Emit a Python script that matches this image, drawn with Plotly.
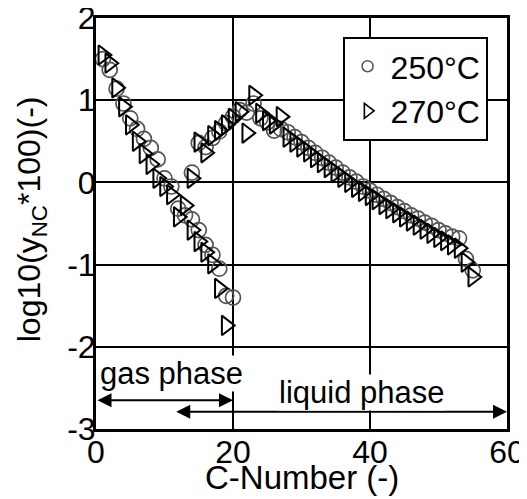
import plotly.graph_objects as go

# 250°C (circles)
c250_gas = [1, 2, 3, 4, 5, 6, 7, 8, 9, 10, 11, 12, 13, 14, 15, 16, 17, 18, 19, 20]
v250_gas = [1.50, 1.37, 1.14, 0.96, 0.78, 0.65, 0.53, 0.42, 0.28, 0.05, -0.05, -0.32,
            -0.40, -0.45, -0.58, -0.76, -0.88, -1.05, -1.38, -1.40]
c250_liq = [14, 15, 16, 17, 18, 19, 20, 21, 22, 23, 24, 25, 26, 27, 28, 29, 30, 31, 32,
            33, 34, 35, 36, 37, 38, 39, 40, 41, 42, 43, 44, 45, 46, 47, 48, 49, 50, 51,
            52, 53, 54, 55]
v250_liq = [0.12, 0.48, 0.43, 0.54, 0.62, 0.72, 0.80, 0.88, 0.85, 0.96, 0.78, 0.73, 0.63,
            0.65, 0.61, 0.55, 0.49, 0.42, 0.36, 0.30, 0.24, 0.18, 0.12, 0.06, 0.01, -0.05,
            -0.10, -0.15, -0.20, -0.25, -0.30, -0.35, -0.40, -0.44, -0.49, -0.53, -0.58,
            -0.62, -0.66, -0.68, -0.93, -1.07]

# 270°C (triangles)
c270_gas = [1, 2, 3, 4, 5, 6, 7, 8, 9, 10, 11, 12, 13, 14, 15, 16, 17, 18, 19]
v270_gas = [1.55, 1.45, 1.15, 0.92, 0.70, 0.50, 0.35, 0.22, 0.05, -0.05, -0.15, -0.42,
            -0.28, -0.58, -0.72, -0.85, -0.99, -1.29, -1.74]
c270_liq = [14, 15, 16, 17, 18, 19, 20, 21, 22, 23, 24, 25, 26, 27, 28, 29, 30, 31, 32,
            33, 34, 35, 36, 37, 38, 39, 40, 41, 42, 43, 44, 45, 46, 47, 48, 49, 50, 51,
            52, 53, 54, 55]
v270_liq = [0.05, 0.49, 0.36, 0.57, 0.63, 0.70, 0.78, 0.86, 0.60, 1.06, 0.84, 0.75, 0.71,
            0.80, 0.55, 0.49, 0.43, 0.37, 0.30, 0.24, 0.18, 0.12, 0.06, 0.00, -0.06, -0.11,
            -0.16, -0.21, -0.27, -0.32, -0.37, -0.42, -0.47, -0.52, -0.57, -0.62, -0.67,
            -0.71, -0.76, -0.80, -0.97, -1.15]

x_ticks = [0, 20, 40, 60]
x_labels = ["0", "20", "40", "60"]
y_ticks = [-3, -2, -1, 0, 1, 2]
y_labels = ["-3", "-2", "-1", "0", "1", "2"]

FONT = "Arial, Liberation Sans, sans-serif"

fig = go.Figure()
circ = dict(symbol="circle-open", size=15, color="#555555", line=dict(width=1.7, color="#555555"))
tri = dict(symbol="triangle-right-open", size=17, color="black", line=dict(width=2, color="black"))

fig.add_trace(go.Scatter(x=c250_gas + c250_liq, y=v250_gas + v250_liq, mode="markers",
                         marker=circ, showlegend=False, cliponaxis=False))
fig.add_trace(go.Scatter(x=c270_gas + c270_liq, y=v270_gas + v270_liq, mode="markers",
                         marker=tri, showlegend=False, cliponaxis=False))
# legend entries
fig.add_trace(go.Scatter(x=[None], y=[None], mode="markers", name="250°C",
                         marker=dict(symbol="circle-open", size=11, color="#555555",
                                     line=dict(width=1.5, color="#555555"))))
fig.add_trace(go.Scatter(x=[None], y=[None], mode="markers", name="270°C",
                         marker=dict(symbol="triangle-right-open", size=13, color="black",
                                     line=dict(width=1.6, color="black"))))

# phase arrows and labels
fig.add_annotation(x=20, y=-2.65, ax=0, ay=-2.65, xref="x", yref="y", axref="x", ayref="y",
                   text="", showarrow=True, arrowside="end+start", arrowhead=2,
                   startarrowhead=2, arrowsize=1.4, startarrowsize=1.4, arrowwidth=2,
                   arrowcolor="black")
fig.add_annotation(x=60, y=-2.79, ax=11.5, ay=-2.79, xref="x", yref="y", axref="x", ayref="y",
                   text="", showarrow=True, arrowside="end+start", arrowhead=2,
                   startarrowhead=2, arrowsize=1.4, startarrowsize=1.4, arrowwidth=2,
                   arrowcolor="black")
fig.add_annotation(x=11, y=-2.33, xref="x", yref="y", text="gas phase", showarrow=False,
                   font=dict(family=FONT, size=31, color="black"), bgcolor="white", borderpad=0)
fig.add_annotation(x=38.8, y=-2.56, xref="x", yref="y", text="liquid phase", showarrow=False,
                   font=dict(family=FONT, size=31, color="black"), bgcolor="white", borderpad=0)

# axis titles
fig.add_annotation(x=0.5, y=-0.118, xref="paper", yref="paper", text="C-Number (-)",
                   showarrow=False, xanchor="center", yanchor="middle",
                   font=dict(family=FONT, size=33, color="black"))
fig.add_annotation(x=-0.156, y=0.51, xref="paper", yref="paper",
                   text="log10(y<sub>NC</sub>*100)(-)", textangle=-90,
                   showarrow=False, xanchor="center", yanchor="middle",
                   font=dict(family=FONT, size=32, color="black"))

axis_common = dict(showgrid=True, gridcolor="black", gridwidth=2, zeroline=False,
                   showline=True, linecolor="black", linewidth=3, mirror=True, ticks="",
                   automargin=False, ticklabeloverflow="allow",
                   tickfont=dict(family=FONT, size=32, color="black"))
fig.update_xaxes(range=[0, 60], tickmode="array", tickvals=x_ticks, ticktext=x_labels,
                 ticklabelstandoff=-7, **axis_common)
fig.update_yaxes(range=[-3, 2], tickmode="array", tickvals=y_ticks, ticktext=y_labels,
                 ticklabelstandoff=-9, **axis_common)

fig.update_layout(
    width=519, height=491,
    margin=dict(l=88, r=20, t=10, b=70),
    paper_bgcolor="white", plot_bgcolor="white",
    font=dict(family=FONT, color="black"),
    legend=dict(x=0.60, y=0.954, xanchor="left", yanchor="top", bgcolor="white",
                bordercolor="black", borderwidth=2,
                font=dict(family=FONT, size=32, color="black"),
                itemwidth=36, tracegroupgap=0),
)

fig.write_html("out.html")
